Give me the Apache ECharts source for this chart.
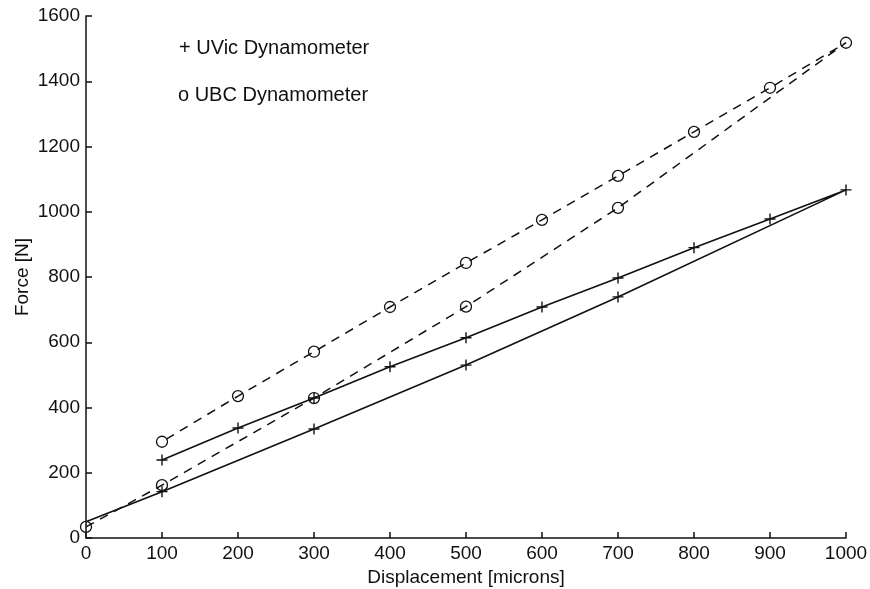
<!DOCTYPE html>
<html>
<head>
<meta charset="utf-8">
<script src="https://cdn.jsdelivr.net/npm/echarts@6/dist/echarts.min.js"></script>
<style>
  html, body { margin: 0; padding: 0; background: #fff; }
  #chart { width: 870px; height: 589px; }
</style>
</head>
<body>
<div id="chart"></div>
<script>
  // displacement [microns] -> force [N], loading then unloading
  const uvicX = [0, 100, 300, 500, 700, 1000, 900, 800, 700, 600, 500, 400, 300, 200, 100];
  const uvicY = [50, 142, 334, 530, 739, 1067, 978, 890, 797, 708, 614, 525, 429, 337, 239];
  const ubcX = [0, 100, 300, 500, 700, 1000, 900, 800, 700, 600, 500, 400, 300, 200, 100];
  const ubcY = [34, 162, 429, 709, 1012, 1518, 1380, 1245, 1110, 975, 843, 708, 571, 435, 295];
  const legendLabels = ['+ UVic Dynamometer', 'o UBC Dynamometer'];

  const plus = 'path://M5,0L5,10M0,5L10,5';
  const font = 'Liberation Sans, Arial, sans-serif';

  const uvicData = uvicX.map((x, i) => {
    const item = { value: [x, uvicY[i]] };
    if (i === 0) item.symbol = 'none';
    return item;
  });
  const ubcData = ubcX.map((x, i) => [x, ubcY[i]]);

  const chart = echarts.init(document.getElementById('chart'));
  chart.setOption({
    animation: false,
    backgroundColor: '#fff',
    grid: { left: 86, right: 24, top: 16, bottom: 51, outerBoundsMode: 'none', containLabel: false },
    xAxis: {
      type: 'value',
      min: 0, max: 1000, interval: 100,
      name: 'Displacement [microns]',
      nameLocation: 'middle',
      nameGap: 30,
      nameMoveOverlap: false,
      nameTextStyle: { fontFamily: font, fontSize: 19, color: '#111' },
      axisLine: { lineStyle: { color: '#111', width: 1.5 } },
      axisTick: { inside: true, length: 6, lineStyle: { color: '#111', width: 1.5 } },
      axisLabel: { fontFamily: font, fontSize: 19, color: '#111', margin: 6, formatter: v => String(v) },
      splitLine: { show: false }
    },
    yAxis: {
      type: 'value',
      min: 0, max: 1600, interval: 200,
      name: 'Force [N]',
      nameLocation: 'middle',
      nameGap: 54,
      nameMoveOverlap: false,
      nameTextStyle: { fontFamily: font, fontSize: 19, color: '#111' },
      axisLine: { show: true, lineStyle: { color: '#111', width: 1.5 } },
      axisTick: { show: true, inside: true, length: 6, lineStyle: { color: '#111', width: 1.5 } },
      axisLabel: { fontFamily: font, fontSize: 19, color: '#111', margin: 6, formatter: v => String(v) },
      splitLine: { show: false }
    },
    graphic: [
      { type: 'text', left: 179, top: 38, style: { text: legendLabels[0], font: '20px ' + font, fill: '#111' } },
      { type: 'text', left: 178, top: 85, style: { text: legendLabels[1], font: '20px ' + font, fill: '#111' } }
    ],
    series: [
      {
        name: 'UVic Dynamometer',
        type: 'line',
        data: uvicData,
        symbol: plus,
        symbolSize: 11,
        showAllSymbol: true,
        lineStyle: { color: '#111', width: 1.6 },
        itemStyle: { color: 'none', borderColor: '#111', borderWidth: 1.4 }
      },
      {
        name: 'UBC Dynamometer',
        type: 'line',
        data: ubcData,
        symbol: 'circle',
        symbolSize: 11,
        showAllSymbol: true,
        lineStyle: { color: '#111', width: 1.5, type: [9, 7] },
        itemStyle: { color: 'rgba(255,255,255,0)', borderColor: '#111', borderWidth: 1.3 }
      }
    ]
  });
</script>
</body>
</html>
